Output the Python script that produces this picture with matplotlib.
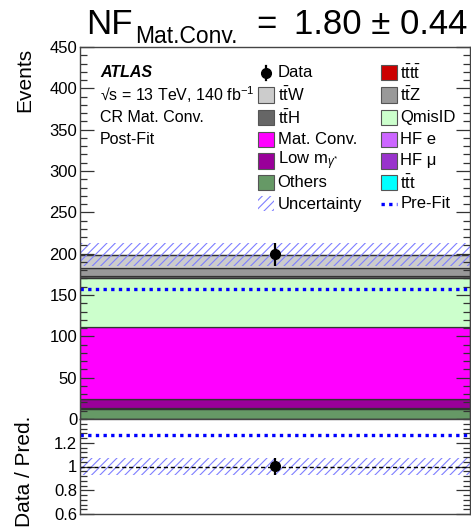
import numpy as np
import matplotlib.pyplot as plt
from matplotlib.patches import Rectangle
from matplotlib.lines import Line2D
from matplotlib.ticker import MultipleLocator

plt.rcParams['font.family'] = ['Liberation Sans', 'DejaVu Sans']
plt.rcParams['mathtext.fontset'] = 'custom'
plt.rcParams['mathtext.rm'] = 'Liberation Sans'
plt.rcParams['mathtext.it'] = 'Liberation Sans:italic'
plt.rcParams['mathtext.bf'] = 'Liberation Sans:bold'
plt.rcParams['hatch.linewidth'] = 0.8
plt.rcParams['hatch.color'] = '#7f7fff'


# ---------- post-fit yields in CR Mat. Conv. (stacked bottom -> top) -------
samples = ["ttt", "Others", "HF mu", "Low m", "HF e", "Mat. Conv.",
           "QmisID", "ttH", "ttZ", "ttW", "tttt"]
yields = [0.3, 12.2, 0.3, 11.3, 0.2, 87.0, 59.0, 3.0, 9.0, 16.0, 0.3]
colors = ["#00ffff", "#669966", "#9933cc", "#990099", "#cc66ff", "#ff00ff",
          "#ccffcc", "#666666", "#999999", "#cccccc", "#cc0000"]

data = 199.0
total_unc = 14.0
prefit_total = 157.0
nf, nf_err = 1.80, 0.44

# legend: (label, sample or special kind), two columns
legend_col1 = [("Data", "data"),
               (r"$\mathrm{t\bar{t}W}$", "ttW"),
               (r"$\mathrm{t\bar{t}H}$", "ttH"),
               ("Mat. Conv.", "Mat. Conv."),
               (r"Low m$_{\gamma^{*}}$", "Low m"),
               ("Others", "Others"),
               ("Uncertainty", "unc")]
legend_col2 = [(r"$\mathrm{t\bar{t}t\bar{t}}$", "tttt"),
               (r"$\mathrm{t\bar{t}Z}$", "ttZ"),
               ("QmisID", "QmisID"),
               ("HF e", "HF e"),
               ("HF μ", "HF mu"),
               (r"$\mathrm{t\bar{t}t}$", "ttt"),
               ("Pre-Fit", "prefit")]

W, H = 471, 529
fig = plt.figure(figsize=(W / 100, H / 100), dpi=100)


def fx(x):
    return x / W


def fy(y):
    return 1 - y / H


ax = fig.add_axes([fx(80), fy(419), fx(470 - 80), (419 - 47) / H])
rax = fig.add_axes([fx(80), fy(514), fx(470 - 80), (514 - 419) / H])

# ---------- main panel ----------
bottom = 0.0
for name, y, c in zip(samples, yields, colors):
    ax.bar(0.5, y, width=1.0, bottom=bottom, color=c,
           edgecolor="#333333", linewidth=0.9)
    bottom += y
total = bottom

ax.bar(0.5, 2 * total_unc, width=1.0, bottom=total - total_unc,
       fill=False, hatch="////", edgecolor="#7f7fff", linewidth=0)
ax.axhline(prefit_total, color="blue", ls=(0, (1, 1.3)), lw=2.4)
ax.errorbar(0.5, data, yerr=np.sqrt(data), fmt="o", color="black",
            ms=7, elinewidth=1.6, capsize=0)

ax.set_xlim(0, 1)
ax.set_ylim(0, 450)
ax.yaxis.set_major_locator(MultipleLocator(50))
ax.yaxis.set_minor_locator(MultipleLocator(10))

# ---------- ratio panel ----------
rax.bar(0.5, 2 * total_unc / total, width=1.0, bottom=1 - total_unc / total,
        fill=False, hatch="////", edgecolor="#7f7fff", linewidth=0)
rax.axhline(1.0, color="black", ls=(0, (3, 2)), lw=1.0)
rax.axhline(data / prefit_total, color="blue", ls=(0, (1, 1.3)), lw=2.4)
rax.errorbar(0.5, data / total, yerr=np.sqrt(data) / total, fmt="o",
             color="black", ms=7, elinewidth=1.6, capsize=0)
rax.set_xlim(0, 1)
rax.set_ylim(0.6, 1.4)
rax.set_yticks([0.6, 0.8, 1.0, 1.2])
rax.set_yticklabels(["0.6", "0.8", "1", "1.2"])
rax.yaxis.set_minor_locator(MultipleLocator(0.04))

for a in (ax, rax):
    a.set_xticks([])
    a.tick_params(axis="y", which="both", direction="in", left=True,
                  right=True, labelsize=12, pad=2, color="#333333")
    a.tick_params(axis="y", which="major", length=10, width=0.9)
    a.tick_params(axis="y", which="minor", length=5, width=0.9)
    for s in a.spines.values():
        s.set_color("#444444")
        s.set_linewidth(1.0)

# ---------- axis titles and header ----------
fig.text(fx(25), fy(48), "Events", rotation=90, ha="center", va="top",
         fontsize=15)
fig.text(fx(25), fy(471), "Data / Pred.", rotation=90, ha="center",
         va="center", fontsize=15)
fig.text(fx(86), fy(34.3), "NF", ha="left", va="baseline", fontsize=25)
fig.text(fx(135), fy(42.7), "Mat.Conv.", ha="left", va="baseline",
         fontsize=16.5)
fig.text(fx(256), fy(34.3), "=", ha="left", va="baseline", fontsize=25)
fig.text(fx(467), fy(34.3), "%.2f ± %.2f" % (nf, nf_err), ha="right",
         va="baseline", fontsize=25)

# ---------- labels ----------
rows = [72.7, 95, 117.7, 139.5, 161, 182.5, 204]
fig.text(fx(100), fy(rows[0]), "ATLAS", fontsize=11.5, weight="bold",
         style="italic", va="center")
fig.text(fx(100), fy(rows[1]), r"√s = 13 TeV, 140 fb$^{-1}$", fontsize=11.5,
         va="center")
fig.text(fx(100), fy(rows[2]), "CR Mat. Conv.", fontsize=11.5, va="center")
fig.text(fx(100), fy(rows[3]), "Post-Fit", fontsize=11.5, va="center")

# ---------- legend ----------
col_of = dict(zip(samples, colors))
for entries, xbox in ((legend_col1, 258), (legend_col2, 381)):
    for (label, kind), yc in zip(entries, rows):
        if kind == "data":
            fig.add_artist(Line2D([fx(xbox + 8)] * 2, [fy(yc - 7), fy(yc + 7)],
                                  color="black", lw=1.6))
            fig.add_artist(Line2D([fx(xbox + 8)], [fy(yc)], marker="o",
                                  color="black", ms=7))
        elif kind == "unc":
            fig.add_artist(Rectangle((fx(xbox), fy(yc + 7.5)), fx(16), 15 / H,
                                     fill=False, hatch="////",
                                     edgecolor="#7f7fff", linewidth=0))
        elif kind == "prefit":
            fig.add_artist(Line2D([fx(xbox), fx(xbox + 16)], [fy(yc)] * 2,
                                  color="blue", ls=(0, (1, 1.3)), lw=2.4))
        else:
            fig.add_artist(Rectangle((fx(xbox), fy(yc + 7.5)), fx(16), 15 / H,
                                     facecolor=col_of[kind],
                                     edgecolor="#555555", linewidth=0.8))
        fig.text(fx(xbox + 19.5), fy(yc), label, fontsize=12, va="center")

fig.savefig("out.png", dpi=100)
